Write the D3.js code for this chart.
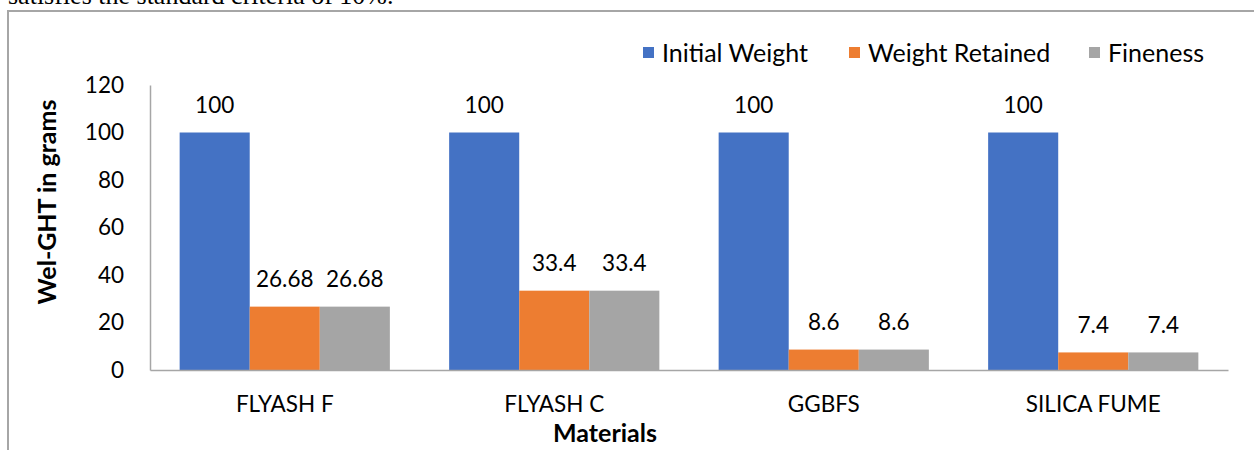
<!DOCTYPE html>
<html>
<head>
<meta charset="utf-8">
<script src="https://cdn.jsdelivr.net/npm/d3@7"></script>
<style>
  html, body { margin: 0; padding: 0; background: #fff; }
  svg { display: block; }
  text { font-family: Lato, "Open Sans", sans-serif; fill: #000; }
</style>
</head>
<body>
<svg id="chart" width="1254" height="450"></svg>
<script>
const categories = ["FLYASH F", "FLYASH C", "GGBFS", "SILICA FUME"];
const seriesNames = ["Initial Weight", "Weight Retained", "Fineness"];
const initialWeight = [100, 100, 100, 100];
const weightRetained = [26.68, 33.4, 8.6, 7.4];
const fineness = [26.68, 33.4, 8.6, 7.4];
const yTicks = [0, 20, 40, 60, 80, 100, 120];
const colors = ["#4472C4", "#ED7D31", "#A5A5A5"];

const seriesValues = [initialWeight, weightRetained, fineness];
const rows = categories.map((c, i) => ({
  cat: c,
  vals: seriesNames.map((s, j) => ({ s, v: seriesValues[j][i], j }))
}));

const svg = d3.select("#chart");
const W = 1254, H = 450;
const plot = { left: 150, right: 1228, top: 85, bottom: 370 };

// cut-off text above the chart frame
svg.append("text")
  .attr("x", 8).attr("y", 4)
  .style("font-family", "'Liberation Serif', 'DejaVu Serif', serif")
  .style("font-size", "26px")
  .text("satisfies the standard criteria of 10%.");

// frame
svg.append("path")
  .attr("d", `M8,${H} L8,11 L${W},11`)
  .attr("fill", "none").attr("stroke", "#a6a6a6").attr("stroke-width", 2);

const x = d3.scaleBand().domain(categories)
  .range([plot.left, plot.right]).paddingInner(0.22).paddingOuter(0.11);
const xs = d3.scaleBand().domain(seriesNames).range([0, x.bandwidth()]).padding(0);
const y = d3.scaleLinear().domain([0, 120]).range([plot.bottom, plot.top]);

// y axis
const yAxis = svg.append("g").attr("transform", `translate(${plot.left},0)`)
  .call(d3.axisLeft(y).tickValues(yTicks).tickSize(0).tickPadding(26));
yAxis.select(".domain").attr("stroke", "#a6a6a6").attr("stroke-width", 1.5);
yAxis.selectAll("text").style("font-family", "Lato, sans-serif").style("font-size", "22.5px").attr("fill", "#000");

// bars
const groups = svg.selectAll("g.grp").data(rows).join("g")
  .attr("class", "grp")
  .attr("transform", d => `translate(${x(d.cat)},0)`);

groups.selectAll("rect").data(d => d.vals).join("rect")
  .attr("x", d => xs(d.s))
  .attr("width", xs.bandwidth())
  .attr("y", d => y(d.v))
  .attr("height", d => y(0) - y(d.v))
  .attr("fill", d => colors[d.j]);

groups.selectAll("text.lbl").data(d => d.vals).join("text")
  .attr("class", "lbl")
  .attr("x", d => xs(d.s) + xs.bandwidth() / 2)
  .attr("y", d => y(d.v) - 19.5)
  .attr("text-anchor", "middle")
  .style("font-size", "22.5px")
  .text(d => d3.format("")(d.v));

// x axis
const xAxis = svg.append("g").attr("transform", `translate(0,${plot.bottom})`)
  .call(d3.axisBottom(x).tickSize(0).tickPadding(26).tickSizeOuter(0));
xAxis.select(".domain").attr("stroke", "#a6a6a6").attr("stroke-width", 1.5);
xAxis.selectAll("text").style("font-family", "Lato, sans-serif").style("font-size", "22.5px").attr("fill", "#000");

// axis titles
svg.append("text")
  .attr("x", 605).attr("y", 442)
  .attr("text-anchor", "middle")
  .style("font-size", "25px").style("font-weight", "bold")
  .text("Materials");

svg.append("text")
  .attr("transform", "translate(56,202) rotate(-90)")
  .attr("text-anchor", "middle")
  .style("font-size", "25px").style("font-weight", "bold")
  .text("Wel-GHT in grams");

// legend
const legendX = [643, 849, 1089];
const leg = svg.selectAll("g.leg").data(seriesNames).join("g")
  .attr("class", "leg")
  .attr("transform", (d, i) => `translate(${legendX[i]},47)`);
leg.append("rect").attr("width", 11).attr("height", 11).attr("fill", (d, i) => colors[i]);
leg.append("text").attr("x", 19).attr("y", 14.5)
  .style("font-size", "25px").text(d => d);
</script>
</body>
</html>
